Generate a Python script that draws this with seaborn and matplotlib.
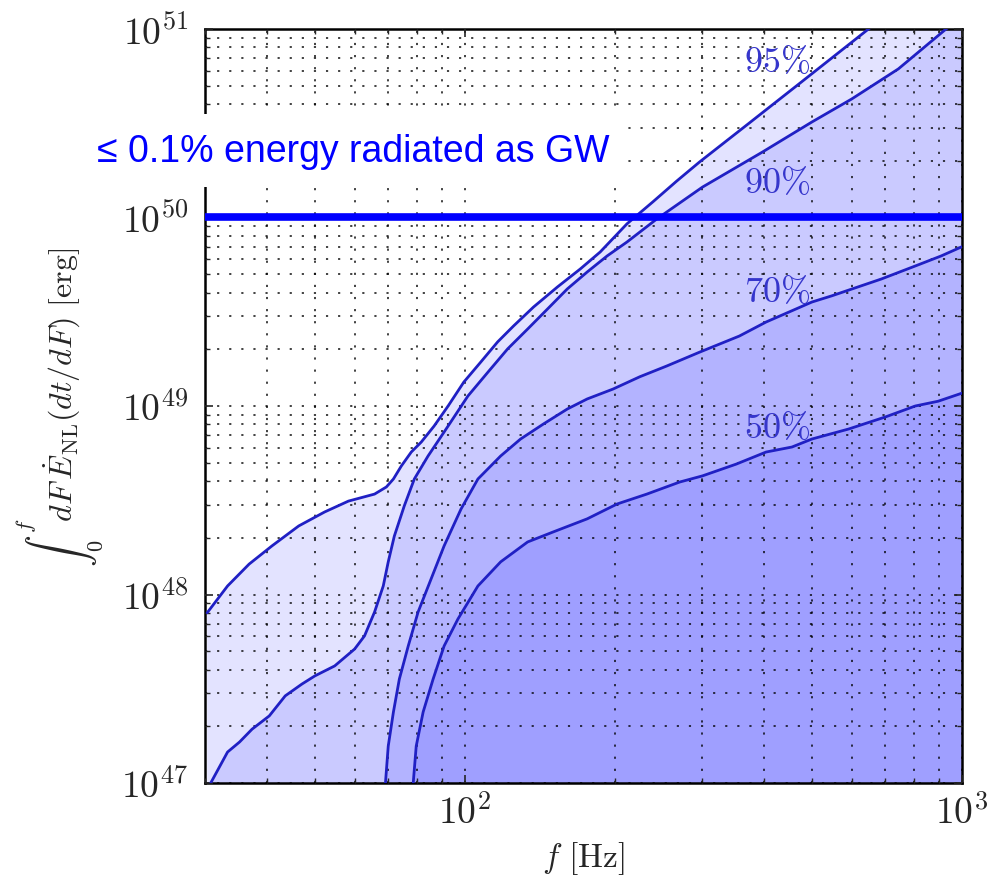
import numpy as np
import pandas as pd
import matplotlib
matplotlib.use("Agg")
import matplotlib.pyplot as plt
from matplotlib.ticker import LogLocator, FuncFormatter, NullFormatter
import seaborn as sns

# ─── Data ─────────────────────────────────────────────────────────────────────
levels = ["95%", "90%", "70%", "50%"]

f95 = [30.3, 33.3, 36.8, 40.9, 46.3, 52.2, 58.3, 65.8, 69.5, 71.8, 74.5, 78.0,
       81.7, 86.7, 92.5, 99.5, 107.6, 116.4, 125.3, 137.4, 153.5, 170.6, 187.1,
       211.8, 238.8, 266.7, 296.5, 373.3, 469.9, 648.6, 1000]
e95 = [8.0e47, 1.11e48, 1.45e48, 1.81e48, 2.31e48, 2.74e48, 3.13e48, 3.41e48,
       3.72e48, 4.10e48, 4.81e48, 5.70e48, 6.44e48, 7.83e48, 1.0e49, 1.34e49,
       1.71e49, 2.19e49, 2.66e49, 3.35e49, 4.28e49, 5.33e49, 6.56e49, 9.25e49,
       1.21e50, 1.56e50, 1.97e50, 3.17e50, 5.11e50, 1.0e51, 2.4e51]

f90 = [30.8, 33.3, 35.2, 37.3, 40.4, 43.5, 47.0, 49.9, 54.7, 60.0, 62.8, 65.8,
       68.5, 70.1, 72.1, 75.5, 79.1, 84.3, 92.5, 101.4, 111.2, 121.9, 133.7,
       146.6, 160.7, 176.2, 193.2, 211.8, 243.2, 300.6, 396.3, 498.9, 599.8,
       744.7, 929.0, 1000]
e90 = [1.0e47, 1.46e47, 1.65e47, 1.93e47, 2.27e47, 2.90e47, 3.35e47, 3.70e47,
       4.18e47, 5.14e47, 6.03e47, 8.08e47, 1.11e48, 1.49e48, 2.04e48, 2.95e48,
       4.10e48, 5.43e48, 7.83e48, 1.13e49, 1.51e49, 2.01e49, 2.56e49, 3.27e49,
       4.18e49, 5.14e49, 6.25e49, 7.41e49, 9.82e49, 1.45e50, 2.22e50, 3.21e50,
       4.25e50, 6.14e50, 1.0e51, 1.15e51]

f70 = [69.2, 70.1, 71.8, 73.8, 76.9, 80.5, 85.5, 90.8, 98.2, 106.2, 118.0,
       129.4, 143.9, 160.7, 176.2, 198.6, 224.9, 254.7, 296.5, 356.5, 403.6,
       498.9, 547.0, 688.7, 805.4, 907.8, 1000]
e70 = [1.0e47, 1.57e47, 2.38e47, 3.56e47, 5.33e47, 8.08e47, 1.21e48, 1.81e48,
       2.84e48, 4.10e48, 5.43e48, 6.68e48, 8.03e48, 9.64e48, 1.09e49, 1.23e49,
       1.43e49, 1.63e49, 1.93e49, 2.35e49, 2.79e49, 3.56e49, 3.84e49, 4.72e49,
       5.53e49, 6.25e49, 7.0e49]

f50 = [78.7, 79.8, 82.4, 86.3, 90.8, 96.8, 106.2, 118.0, 133.7, 150.7, 176.2,
       202.3, 232.3, 270.4, 300.6, 351.6, 403.6, 455.0, 498.9, 591.6, 701.5,
       805.4, 895.4, 1000]
e50 = [1.0e47, 1.57e47, 2.38e47, 3.56e47, 5.33e47, 7.41e47, 1.11e48, 1.49e48,
       1.90e48, 2.15e48, 2.52e48, 3.02e48, 3.41e48, 3.95e48, 4.26e48, 4.92e48,
       5.70e48, 6.06e48, 6.68e48, 7.55e48, 8.75e48, 1.0e49, 1.06e49, 1.17e49]

gw_limit = 1e50
gw_text = "≤ 0.1% energy radiated as GW"

# where the percentage tags sit
tag_f = [425, 425, 425, 425]
tag_e = [6.76e50, 1.54e50, 4.07e49, 7.74e48]

# ─── Styling ──────────────────────────────────────────────────────────────────
sns.set_style("ticks")
plt.rcParams["mathtext.fontset"] = "cm"
plt.rcParams["font.family"] = ["DejaVu Sans"]

LINE_C = "#2020c4"
TAG_C = "#3636cc"

curves = {"95%": (f95, e95), "90%": (f90, e90),
          "70%": (f70, e70), "50%": (f50, e50)}

df = pd.concat(
    [pd.DataFrame({"f": f, "E": e, "level": lv}) for lv, (f, e) in curves.items()],
    ignore_index=True,
)

fig = plt.figure(figsize=(9.9, 8.87), dpi=100)
ax = fig.add_axes([0.2071, 0.1161, 0.7646, 0.8501])
ax.set_xscale("log")
ax.set_yscale("log")

# translucent stacked fills
for lv in levels:
    f, e = curves[lv]
    ax.fill_between(f, e, 1e45, color="blue", alpha=0.11, linewidth=0, zorder=1)

sns.lineplot(data=df, x="f", y="E", hue="level", hue_order=levels,
             palette={lv: LINE_C for lv in levels}, estimator=None, sort=False,
             linewidth=2.0, legend=False, ax=ax, zorder=3)

ax.axhline(gw_limit, color="blue", linewidth=5.5, zorder=4)

for lv, tf, te in zip(levels, tag_f, tag_e):
    ax.text(tf, te, r"$%s\%%$" % lv.rstrip("%"), color=TAG_C, fontsize=26,
            ha="center", va="center", zorder=5)

ax.set_xlim(30, 1000)
ax.set_ylim(1e47, 1e51)

ax.xaxis.set_major_locator(LogLocator(base=10))
ax.xaxis.set_minor_locator(LogLocator(base=10, subs=np.arange(2, 10)))
ax.yaxis.set_major_locator(LogLocator(base=10))
ax.yaxis.set_minor_locator(LogLocator(base=10, subs=np.arange(2, 10), numticks=20))
sci = FuncFormatter(lambda v, p: r"$10^{%d}$" % round(np.log10(v)))
ax.xaxis.set_major_formatter(sci)
ax.yaxis.set_major_formatter(sci)
ax.xaxis.set_minor_formatter(NullFormatter())
ax.yaxis.set_minor_formatter(NullFormatter())

ax.set_axisbelow(False)
ax.grid(True, which="both", color="k", linestyle=(0, (1.2, 5.5)),
        linewidth=1.3, alpha=0.8)

ax.tick_params(which="both", direction="in", top=True, right=True)
ax.tick_params(which="major", length=6, width=1.2, labelsize=27)
ax.tick_params(which="minor", length=3.5, width=1.0)
ax.tick_params(axis="y", pad=12)
ax.tick_params(axis="x", pad=8)
for sp in ax.spines.values():
    sp.set_linewidth(1.8)
    sp.set_color("k")

ax.set_xlabel(r"$f\ [{\rm Hz}]$", fontsize=24, labelpad=6)
ax.set_ylabel(r"$\int_0^f dF\, \dot{E}_{\rm NL}(dt/dF)\ [{\rm erg}]$",
              fontsize=23, labelpad=12)

fig.text(0.098, 0.829, gw_text, color="blue", fontsize=27,
         family=["Liberation Sans", "DejaVu Sans"], va="center", ha="left",
         zorder=10,
         bbox=dict(facecolor="white", edgecolor="none",
                   boxstyle="square,pad=0.5"))

fig.savefig("out.png", dpi=100)
plt.close(fig)
